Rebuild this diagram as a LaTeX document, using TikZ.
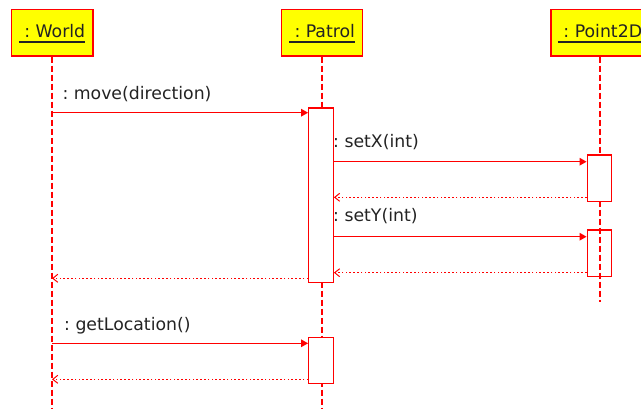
\documentclass[tikz,border=0pt]{standalone}
\usepackage{fontspec}
\setmainfont{DejaVu Sans}
\usetikzlibrary{arrows.meta}
\definecolor{umlred}{RGB}{255,0,0}
\definecolor{umlyellow}{RGB}{255,255,0}
\definecolor{ink}{RGB}{35,35,35}
\frenchspacing
% object name, underlined with a firm rule
\newcommand\objname[1]{\setbox0\hbox{#1}\rlap{\usebox0}\rule[-5pt]{\wd0}{1.1pt}}

\begin{document}
\begin{tikzpicture}[x=1pt,y=-1pt,
  obj/.style={draw=umlred, fill=umlyellow, line width=1.3pt, minimum height=46.7pt,
    inner sep=0pt, text height=13.6pt, text depth=4pt,
    font=\fontsize{17.3}{20}\selectfont, text=ink},
  life/.style={draw=umlred, line width=1.3pt, dash pattern=on 6pt off 3pt},
  act/.style={draw=umlred, fill=white, line width=1.3pt, minimum width=24.5pt, inner sep=0pt},
  call/.style={draw=umlred, line width=1.3pt, -{Triangle[length=7pt,width=7.5pt]}},
  ret/.style={draw=umlred, line width=1.2pt, dash pattern=on 1.6pt off 2.2pt,
    -{Straight Barb[length=5pt,width=8pt,line width=1pt]}},
  lbl/.style={anchor=base west, inner sep=0pt, text=ink, font=\fontsize{17.3}{20}\selectfont}]

\useasboundingbox (0,0) rectangle (641,408);
\clip (0,0) rectangle (641,408);

% participants
\node[obj, minimum width=81.7pt] (world) at (52,32.7) {\objname{\ : World}};
\node[obj, minimum width=81.3pt] (patrol) at (322,32.7) {\objname{\ : Patrol}};
\node[obj, minimum width=98pt] (point) at (600,32.7) {\objname{\ : Point2D}};

% lifeline ends
\coordinate (wend) at (52,408);
\coordinate (tend) at (322,408);
\coordinate (pend) at (600,302);
\draw[life] (world.south) -- (wend);
\draw[life] (patrol.south) -- (tend);
\draw[life] (point.south) -- (pend);

% activations
\node[act, minimum height=174.2pt] (a1) at (321.0,195.2) {};
\node[act, minimum height=46pt] (a2) at (321.0,360.3) {};
\node[act, minimum height=46.7pt] (p1) at (599.5,178.3) {};
\node[act, fill=none, minimum height=46.7pt] (p2) at (599.5,253.3) {};

% message rows
\coordinate (y1) at (0,112.7);
\coordinate (y2) at (0,161.7);
\coordinate (y3) at (0,197.3);
\coordinate (y4) at (0,236.7);
\coordinate (y5) at (0,272.7);
\coordinate (y6) at (0,278.3);
\coordinate (y7) at (0,343.3);
\coordinate (y8) at (0,379.3);

\draw[call] (world.south |- y1) -- (a1.west |- y1);
\node[lbl] (l1) at (62.3,99.4) {: move(direction)};

\draw[call] (a1.east |- y2) -- (p1.west |- y2);
\node[lbl] (l2) at (333,147.3) {: setX(int)};
\draw[ret] (p1.west |- y3) -- (a1.east |- y3);

\draw[call] (a1.east |- y4) -- (p2.west |- y4);
\node[lbl] (l3) at (333,221.7) {: setY(int)};
\draw[ret] (p2.west |- y5) -- (a1.east |- y5);

\draw[ret] (a1.west |- y6) -- (world.south |- y6);

\draw[call] (world.south |- y7) -- (a2.west |- y7);
\node[lbl] (l4) at (64,330) {: getLocation()};
\draw[ret] (a2.west |- y8) -- (world.south |- y8);
\end{tikzpicture}
\end{document}
